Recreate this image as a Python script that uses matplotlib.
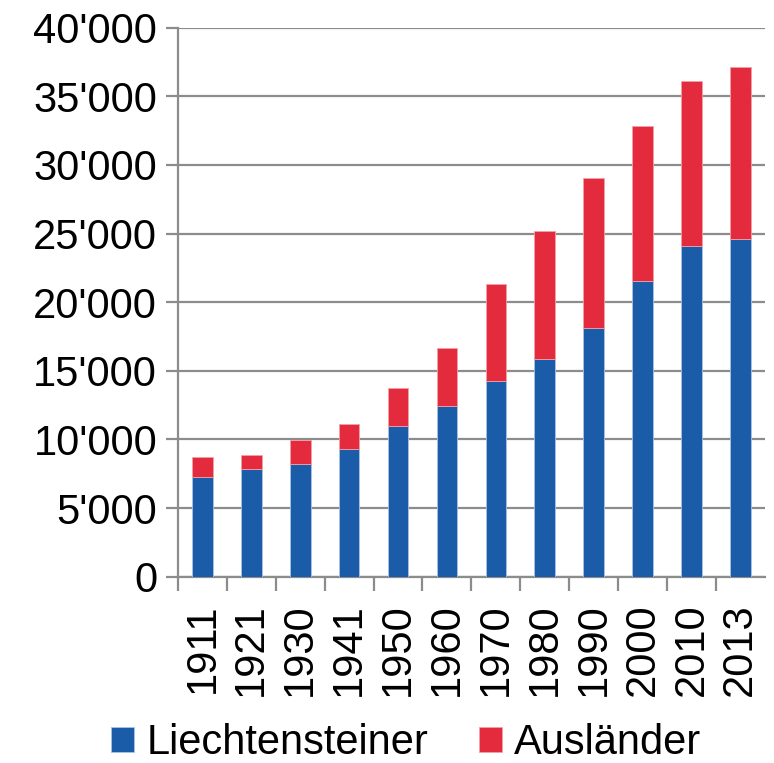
import numpy as np
import matplotlib
matplotlib.use("Agg")
from matplotlib import pyplot as plt
from matplotlib.ticker import FuncFormatter

years = ["1911", "1921", "1930", "1941", "1950", "1960",
         "1970", "1980", "1990", "2000", "2010", "2013"]
liechtensteiner = [7290, 7830, 8210, 9280, 10960, 12460,
                   14260, 15880, 18100, 21520, 24120, 24580]
total = [8693, 8841, 9948, 11094, 13757, 16628,
         21350, 25215, 29032, 32863, 36149, 37129]
auslaender = [t - l for t, l in zip(total, liechtensteiner)]

blue = "#1a5ca8"
red = "#e42b3d"
grid_col = "#8c8c8c"

plt.rcParams["font.family"] = ["Liberation Sans", "DejaVu Sans"]

fig = plt.figure(figsize=(7.74, 7.63), dpi=100)
ax = fig.add_axes([0.230, 0.2442, 0.758, 0.7195])

x = np.arange(len(years))
ax.bar(x, liechtensteiner, width=0.42, color=blue, edgecolor="#a9c3e6",
       linewidth=0.6, label="Liechtensteiner", zorder=3)
ax.bar(x, auslaender, width=0.42, bottom=liechtensteiner, color=red,
       edgecolor="#f2a0a8", linewidth=0.6, label="Ausländer", zorder=3)

ax.set_xlim(-0.5, 11.5)
ax.set_ylim(0, 40000)
ax.set_yticks(np.arange(0, 40001, 5000))
ax.yaxis.set_major_formatter(FuncFormatter(lambda v, p: f"{int(v):,}".replace(",", "'")))
ax.yaxis.grid(True, color=grid_col, linewidth=1.6, zorder=0)

# category labels centred, separator ticks between categories
ax.set_xticks(x)
ax.set_xticklabels(years, rotation=90)
ax.set_xticks(np.arange(-0.5, 11.0, 1.0), minor=True)
ax.tick_params(axis="x", which="major", length=0, pad=19, labelsize=30)
ax.tick_params(axis="x", which="minor", length=10, width=1.6, color=grid_col)
ax.tick_params(axis="y", length=9, width=1.6, color=grid_col, labelsize=30, pad=6)

for s in ["top", "right"]:
    ax.spines[s].set_visible(False)
for s in ["left", "bottom"]:
    ax.spines[s].set_color(grid_col)
    ax.spines[s].set_linewidth(1.6)

fig.legend(loc="lower center", bbox_to_anchor=(0.525, 0.0), ncol=2, frameon=False,
           fontsize=30, handlelength=0.55, handleheight=0.55, handletextpad=0.3,
           columnspacing=1.2, borderpad=0, borderaxespad=0)

fig.savefig("out.png", dpi=100)
